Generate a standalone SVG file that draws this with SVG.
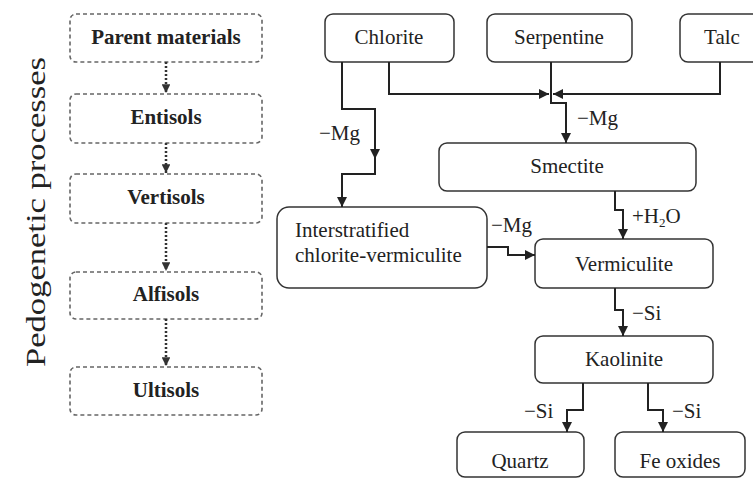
<svg xmlns="http://www.w3.org/2000/svg" width="753" height="478" viewBox="0 0 753 478">
<style>
.bg{fill:#ffffff}
.stage rect{fill:#ffffff;stroke:#666;stroke-width:1.6;stroke-dasharray:4 3}
.stage text{font-family:"Liberation Serif","Times New Roman",serif;font-weight:bold;font-size:21px;fill:#222;text-anchor:middle}
.node rect{fill:#ffffff;stroke:#333;stroke-width:1.5}
.node text{font-family:"Liberation Serif","Times New Roman",serif;font-size:21px;fill:#222;text-anchor:middle}
.conn path{fill:none;stroke:#222;stroke-width:2}
.conn .dot{stroke:#333;stroke-width:2.5;stroke-dasharray:2 2}
.lbl{font-family:"Liberation Serif","Times New Roman",serif;font-size:21px;fill:#222}
.side{font-family:"Liberation Serif","Times New Roman",serif;font-size:28px;fill:#222;text-anchor:middle}
</style>
<defs>
<marker id="ah" viewBox="0 0 10 10" refX="10" refY="5" markerWidth="5" markerHeight="5" orient="auto" markerUnits="strokeWidth">
<path d="M0,0 L10,5 L0,10 z" fill="#222"/>
</marker>
<marker id="ahd" viewBox="0 0 10 10" refX="10" refY="5" markerWidth="3.5" markerHeight="3.5" orient="auto" markerUnits="strokeWidth">
<path d="M0,0 L10,5 L0,10 z" fill="#333"/>
</marker>
</defs>
<rect class="bg" x="0" y="0" width="753" height="478"/>

<text class="side" transform="translate(45,212) rotate(-90)" textLength="310" lengthAdjust="spacingAndGlyphs">Pedogenetic processes</text>

<g id="parent-materials" class="stage"><rect x="70" y="14" width="192" height="48" rx="6"/><text x="166" y="44">Parent materials</text></g>
<g id="entisols" class="stage"><rect x="70" y="94" width="192" height="49" rx="6"/><text x="166" y="124">Entisols</text></g>
<g id="vertisols" class="stage"><rect x="70" y="174" width="192" height="49" rx="6"/><text x="166" y="204">Vertisols</text></g>
<g id="alfisols" class="stage"><rect x="70" y="272" width="192" height="47" rx="6"/><text x="166" y="301">Alfisols</text></g>
<g id="ultisols" class="stage"><rect x="70" y="367" width="192" height="48" rx="6"/><text x="166" y="397">Ultisols</text></g>

<g id="chlorite" class="node"><rect x="325" y="14" width="129" height="48" rx="8"/><text x="389" y="44">Chlorite</text></g>
<g id="serpentine" class="node"><rect x="487" y="14" width="145" height="48" rx="8"/><text x="559" y="44">Serpentine</text></g>
<g id="talc" class="node"><rect x="680" y="14" width="86" height="48" rx="8"/><text x="722" y="44">Talc</text></g>
<g id="smectite" class="node"><rect x="439" y="143" width="257" height="48" rx="8"/><text x="567" y="173">Smectite</text></g>
<g id="interstratified" class="node"><rect x="277" y="207" width="210" height="81" rx="12"/><text x="295" y="237" style="text-anchor:start">Interstratified</text><text x="295" y="262" style="text-anchor:start">chlorite-vermiculite</text></g>
<g id="vermiculite" class="node"><rect x="535" y="239" width="178" height="49" rx="8"/><text x="624" y="271">Vermiculite</text></g>
<g id="kaolinite" class="node"><rect x="535" y="336" width="178" height="47" rx="8"/><text x="624" y="366">Kaolinite</text></g>
<g id="quartz" class="node"><rect x="457" y="432" width="127" height="45" rx="8"/><text x="520" y="468">Quartz</text></g>
<g id="fe-oxides" class="node"><rect x="615" y="432" width="130" height="45" rx="8"/><text x="680" y="468">Fe oxides</text></g>

<g id="connectors" class="conn">
<path class="dot" d="M166,62 V93" marker-end="url(#ahd)"/>
<path class="dot" d="M166,143 V173" marker-end="url(#ahd)"/>
<path class="dot" d="M166,223 V271" marker-end="url(#ahd)"/>
<path class="dot" d="M166,319 V366" marker-end="url(#ahd)"/>

<path d="M342,62 V109 H375 V159" marker-end="url(#ah)"/>
<path d="M375,155 V174 H342 V207" marker-end="url(#ah)"/>
<path d="M389,62 V94 H549" marker-end="url(#ah)"/>
<path d="M720,62 V94 H553" marker-end="url(#ah)"/>
<path d="M551,62 V103 H566 V143" marker-end="url(#ah)"/>
<path d="M615,191 V210 H623 V239" marker-end="url(#ah)"/>
<path d="M487,247 H508 V255 H535" marker-end="url(#ah)"/>
<path d="M615,288 V310 H623 V336" marker-end="url(#ah)"/>
<path d="M583,383 V410 H567 V432" marker-end="url(#ah)"/>
<path d="M648,383 V410 H663 V432" marker-end="url(#ah)"/>

<text class="lbl" x="319" y="140">−Mg</text>
<text class="lbl" x="577" y="125">−Mg</text>
<text class="lbl" x="632" y="223">+H<tspan font-size="13" dy="4">2</tspan><tspan dy="-4">O</tspan></text>
<text class="lbl" x="491" y="232">−Mg</text>
<text class="lbl" x="632" y="320">−Si</text>
<text class="lbl" x="524" y="418">−Si</text>
<text class="lbl" x="672" y="418">−Si</text>
</g>
</svg>
